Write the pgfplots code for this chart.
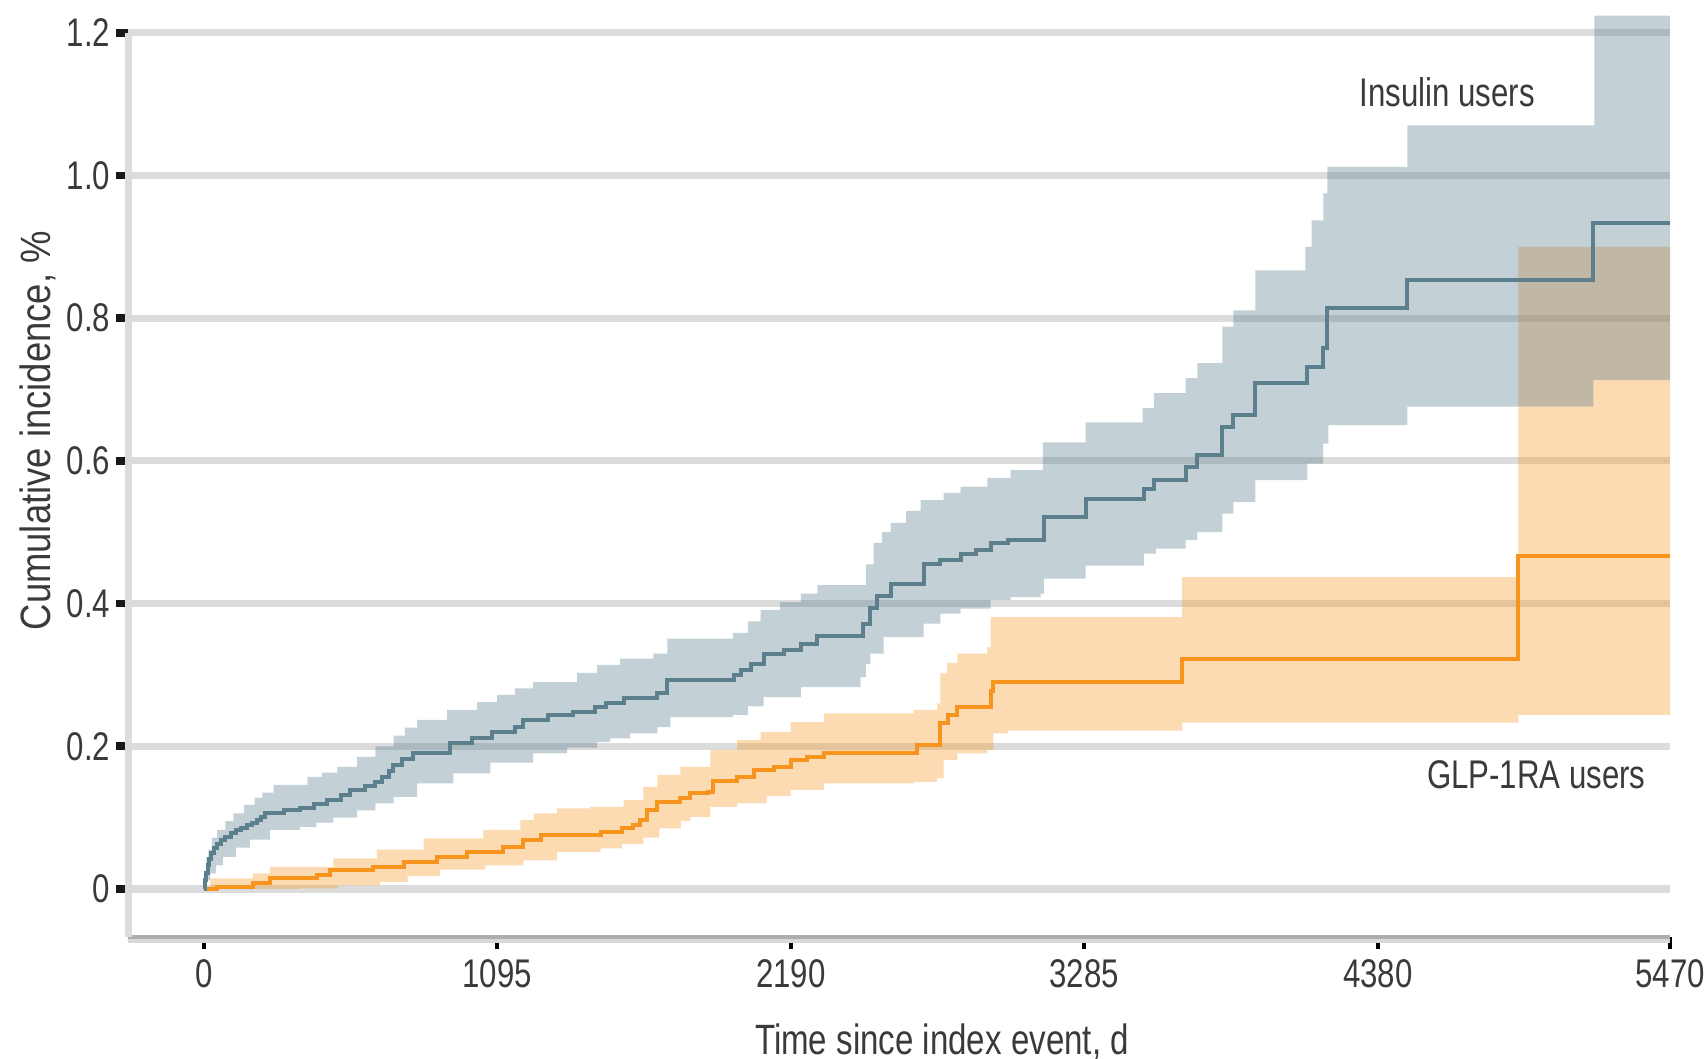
\documentclass[border=0pt]{standalone}
\usepackage{fontspec}
\setmainfont{Liberation Sans}[FakeStretch=0.78]
\newfontfamily\ylabfont{Liberation Sans}[FakeStretch=0.86]
\usepackage{pgfplots}
\usepackage{pgfplotstable}
\pgfplotsset{compat=1.18}
\usepgfplotslibrary{fillbetween}

\definecolor{insl}{HTML}{5B7F8D}
\definecolor{glp}{HTML}{F7941D}
\definecolor{gridc}{HTML}{DCDCDD}
\definecolor{txt}{HTML}{3A3A3A}

\pgfplotstableread{
x y
0 0
4 0.012
8 0.022
14 0.033
20 0.042
28 0.050
38 0.057
50 0.063
65 0.069
80 0.073
100 0.078
120 0.082
140 0.086
160 0.089
180 0.092
200 0.097
215 0.101
229 0.106
300 0.110
360 0.114
410 0.119
460 0.125
510 0.132
546 0.139
600 0.145
640 0.150
666 0.157
690 0.165
707 0.174
740 0.182
782 0.190
919 0.205
1000 0.211
1076 0.220
1162 0.227
1192 0.237
1285 0.244
1379 0.248
1461 0.255
1500 0.260
1566 0.267
1692 0.275
1729 0.293
1978 0.300
2003 0.307
2040 0.315
2088 0.330
2163 0.335
2227 0.344
2289 0.355
2460 0.372
2487 0.394
2513 0.411
2562 0.428
2685 0.456
2748 0.461
2823 0.470
2880 0.475
2935 0.485
3000 0.489
3134 0.521
3290 0.547
3507 0.561
3544 0.573
3663 0.591
3707 0.608
3800 0.647
3841 0.664
3923 0.709
4117 0.731
4176 0.758
4191 0.814
4490 0.853
5184 0.933
5470 0.933
}\insline

\pgfplotstableread{
x y
0 0
4 0.025
10 0.045
17 0.055
30 0.072
50 0.083
80 0.095
110 0.106
150 0.118
190 0.128
218 0.135
260 0.146
386 0.157
440 0.163
498 0.171
572 0.185
640 0.200
708 0.215
750 0.226
796 0.237
908 0.251
1020 0.262
1094 0.272
1160 0.281
1229 0.290
1393 0.303
1467 0.314
1553 0.323
1677 0.330
1729 0.351
1975 0.359
2030 0.375
2077 0.391
2150 0.402
2227 0.414
2289 0.426
2470 0.455
2499 0.485
2530 0.500
2562 0.513
2620 0.530
2674 0.545
2760 0.555
2823 0.564
2923 0.576
3010 0.587
3130 0.626
3290 0.654
3502 0.674
3544 0.695
3663 0.716
3707 0.737
3800 0.788
3841 0.811
3923 0.867
4110 0.900
4133 0.937
4177 0.975
4192 1.012
4490 1.070
5188 1.224
5470 1.224
}\insup

\pgfplotstableread{
x y
0 0
10 0.012
24 0.022
45 0.033
72 0.045
120 0.058
172 0.069
246 0.083
358 0.087
420 0.093
483 0.100
572 0.110
640 0.120
708 0.129
796 0.148
931 0.162
1069 0.177
1229 0.190
1355 0.198
1467 0.206
1517 0.211
1590 0.218
1692 0.227
1741 0.241
1975 0.244
2030 0.256
2088 0.269
2227 0.283
2450 0.297
2470 0.315
2487 0.330
2536 0.353
2685 0.372
2748 0.386
2823 0.393
2935 0.405
3010 0.409
3122 0.414
3134 0.435
3290 0.453
3507 0.470
3552 0.477
3663 0.489
3707 0.500
3800 0.526
3841 0.542
3923 0.573
4117 0.596
4176 0.624
4195 0.650
4490 0.676
5184 0.713
5470 0.713
}\inslo

\pgfplotstableread{
x y
0 0
50 0.003
184 0.008
246 0.015
422 0.020
472 0.027
633 0.031
745 0.038
870 0.045
981 0.052
1118 0.059
1192 0.068
1257 0.076
1480 0.080
1560 0.085
1600 0.090
1629 0.097
1654 0.110
1692 0.122
1778 0.127
1815 0.134
1882 0.136
1901 0.152
1990 0.157
2052 0.167
2126 0.171
2189 0.181
2251 0.185
2313 0.190
2662 0.202
2748 0.232
2778 0.244
2811 0.255
2935 0.278
2946 0.290
3650 0.322
4904 0.467
5470 0.467
}\glpline

\pgfplotstableread{
x y
0 0
24 0.015
184 0.022
246 0.031
483 0.043
646 0.055
820 0.071
1043 0.083
1181 0.097
1231 0.106
1318 0.113
1441 0.115
1566 0.125
1640 0.143
1692 0.160
1778 0.171
1890 0.195
1990 0.209
2077 0.220
2189 0.234
2313 0.246
2648 0.251
2736 0.260
2748 0.302
2773 0.317
2811 0.330
2923 0.339
2935 0.381
3650 0.437
4904 0.900
5470 0.900
}\glpup

\pgfplotstableread{
x y
0 0
358 0.001
500 0.005
657 0.010
760 0.018
882 0.027
1050 0.033
1192 0.040
1318 0.052
1480 0.057
1560 0.063
1640 0.072
1700 0.085
1780 0.095
1815 0.101
1890 0.115
1990 0.120
2100 0.130
2189 0.139
2313 0.148
2648 0.150
2736 0.155
2760 0.181
2811 0.190
2923 0.195
2946 0.218
3000 0.222
3650 0.233
4904 0.244
5470 0.244
}\glplo

\begin{document}
\begin{tikzpicture}
\begin{axis}[
  scale only axis,
  width=385.4pt, height=226.1pt,
  xmin=-281, xmax=5470, ymin=-0.0674, ymax=1.2,
  clip=false,
  axis x line*=bottom, axis y line*=left,
  x axis line style={draw=black!32, line width=1pt, -},
  y axis line style={draw=gridc, line width=1.7pt, -},
  xtick={0,1095,2190,3285,4380,5470},
  xticklabels={0,1095,2190,3285,4380,5470},
  ytick={0,0.2,0.4,0.6,0.8,1.0,1.2},
  yticklabels={0,0.2,0.4,0.6,0.8,1.0,1.2},
  tick align=outside, major tick length=3pt,
  xtick style={line width=1pt, draw=black},
  ytick style={line width=1.9pt, draw=black!90},
  ymajorgrids,
  major grid style={draw=gridc, line width=1.8pt},
  /pgf/number format/assume math mode=true,
  tick label style={font=\fontsize{10}{12}\selectfont, text=txt},
  yticklabel style={inner sep=0pt, xshift=-1.4pt},
  xticklabel style={inner sep=0pt, yshift=-2.5pt},
  xlabel={Time since index event, d},
  xlabel style={at={(rel axis cs:0.5277,-0.1158)}, anchor=center, font=\fontsize{10.6}{12}\selectfont, text=txt},
  ylabel={\ylabfont Cumulative incidence, \%},
  ylabel style={at={(rel axis cs:-0.0587,0.56)}, anchor=center, font=\fontsize{10.6}{12}\selectfont, text=txt},
]
% GLP-1RA band
\addplot[name path=gu, draw=none, const plot] table {\glpup};
\addplot[name path=gl, draw=none, const plot] table {\glplo};
\addplot[fill=glp, fill opacity=0.34, draw=none] fill between[of=gu and gl];
% Insulin band
\addplot[name path=iu, draw=none, const plot] table {\insup};
\addplot[name path=il, draw=none, const plot] table {\inslo};
\addplot[fill=insl, fill opacity=0.37, draw=none] fill between[of=iu and il];
% lines
\addplot[glp, line width=1pt, const plot] table {\glpline};
\addplot[insl, line width=1pt, const plot] table {\insline};
% light shadow under the bottom axis line
\draw[draw=black!15, line width=1pt] ([yshift=-1pt]rel axis cs:0,0) -- ([yshift=-1pt]rel axis cs:1,0);
\node[anchor=base, text=txt, font=\fontsize{10}{12}\selectfont] at (axis cs:4639,1.096) {Insulin users};
\node[anchor=base, text=txt, font=\fontsize{10}{12}\selectfont] at (axis cs:4971,0.141) {GLP-1RA users};
\end{axis}
\pgfresetboundingbox
\path[use as bounding box] ([shift={(-32.125pt,-30.25pt)}]current axis.south west) rectangle ([shift={(9.5pt,8.175pt)}]current axis.north east);
\end{tikzpicture}
\end{document}
